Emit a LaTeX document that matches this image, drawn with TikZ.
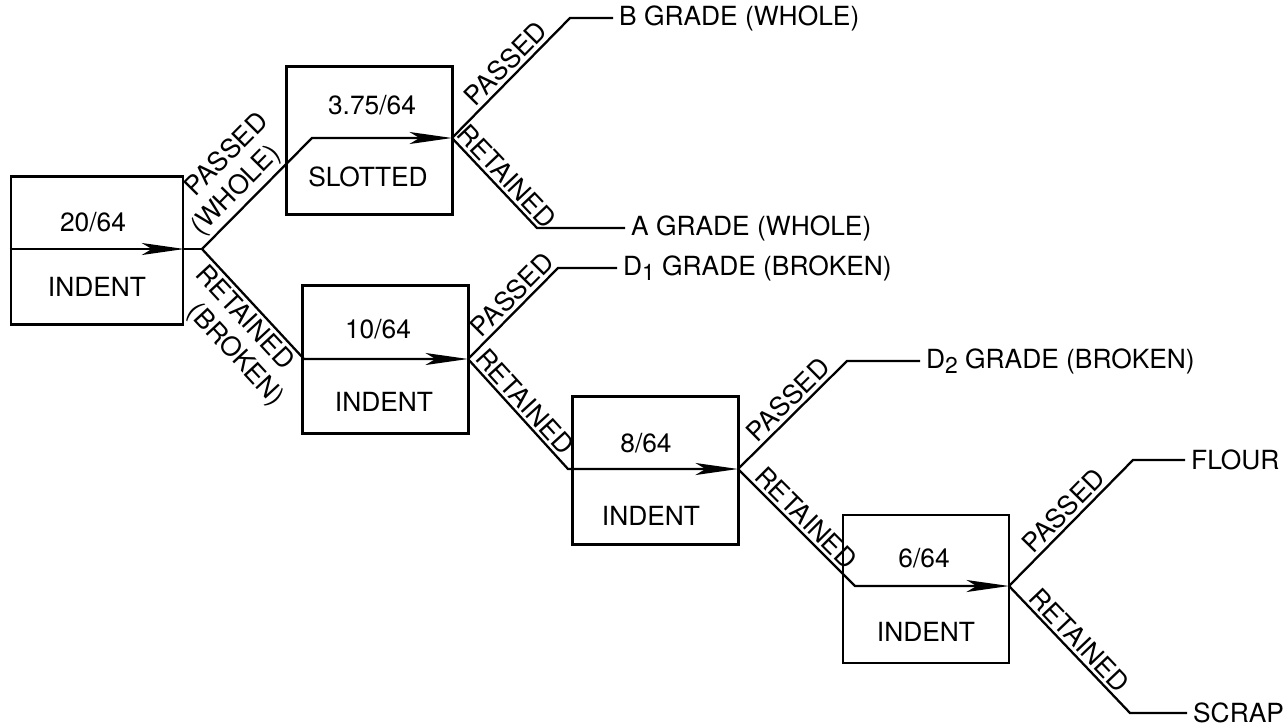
\documentclass[tikz,border=0pt]{standalone}
\usepackage{fontspec}
\setmainfont{TeX Gyre Heros}
\usetikzlibrary{arrows.meta}
\newcommand{\lowidx}[1]{\raisebox{-0.4ex}{\fontsize{13}{13}\selectfont #1}}

\begin{document}
\begin{tikzpicture}[x=0.02cm,y=-0.02cm,line width=1.3pt,
    every node/.style={font=\fontsize{15}{18}\selectfont},
    sieve/.style={draw, line width=1.5pt, minimum width=3.32cm, minimum height=2.96cm, inner sep=0pt},
    flow/.style={-{Stealth[length=0.85cm,width=0.24cm,inset=0.2cm]}},
    tag/.style={sloped, inner sep=0.06cm},
    grade/.style={anchor=west, inner xsep=0.1cm, inner ysep=1pt}]
    \useasboundingbox (0,0) rectangle (1288,727);
    \node[sieve, minimum width=3.44cm] (b1) at (97,250.5) {};
    \node[sieve] (b2) at (369.5,140.5) {};
    \node[sieve] (b3) at (385.5,359.5) {};
    \node[sieve] (b4) at (655.5,470.5) {};
    \node[sieve] (b5) at (926,589) {};
    \node (n1) at (93,222) {20/64};
    \node (m1) at (97,287) {INDENT};
    \node (n2) at (372,105) {3.75/64};
    \node (m2) at (368,177) {SLOTTED};
    \node (n3) at (378,329) {10/64};
    \node (m3) at (384,402) {INDENT};
    \node (n4) at (646,443) {8/64};
    \node (m4) at (651,516) {INDENT};
    \node (n5) at (924,558) {6/64};
    \node (m5) at (926,632) {INDENT};
    \coordinate (p1) at (202,249);
    \coordinate (p2) at (452,138);
    \coordinate (p3) at (468,359);
    \coordinate (p4) at (738,469);
    \coordinate (p5) at (1009,586);
    \coordinate (k2) at (312,138);
    \coordinate (k3) at (304,359);
    \coordinate (k4) at (568,469);
    \coordinate (k5) at (855,586);
    \draw[flow] (b1.west |- p1) -- (b1.east |- p1);
    \draw (b1.east |- p1) -- (p1);
    \draw[flow] (p1) -- node[tag, above, pos=0.42] {(WHOLE)}
        node[tag, above=0.72cm, pos=0.54] {PASSED} (k2) -- (p2);
    \draw[flow] (p1) -- node[tag, below, pos=0.53] {RETAINED}
        node[tag, below=0.62cm, pos=0.67] {(BROKEN)} (k3) -- (p3);
    \draw[flow] (p3) -- node[tag, above, pos=0.47] {RETAINED} (k4) -- (p4);
    \draw[flow] (p4) -- node[tag, above, pos=0.5] {RETAINED} (k5) -- (p5);
    \coordinate (qB) at (570,18);
    \coordinate (qA) at (537,228);
    \coordinate (qD1) at (558,268);
    \coordinate (qD2) at (847,361);
    \coordinate (qF) at (1133,460);
    \coordinate (qS) at (1130,713);
    \node[grade] (gB) at (613,18) {B GRADE (WHOLE)};
    \node[grade] (gA) at (625,228) {A GRADE (WHOLE)};
    \node[grade] (gD1) at (617,268) {D\lowidx{1} GRADE (BROKEN)};
    \node[grade] (gD2) at (920,361) {D\lowidx{2} GRADE (BROKEN)};
    \node[grade] (gF) at (1185,460) {FLOUR};
    \node[grade] (gS) at (1187,713) {SCRAP};
    \draw (p2) -- node[tag, above, pos=0.54] {PASSED} (qB) -- (gB.west);
    \draw (p2) -- node[tag, above, pos=0.53] {RETAINED} (qA) -- (gA.west);
    \draw (p3) -- node[tag, above, pos=0.6] {PASSED} (qD1) -- (gD1.west);
    \draw (p4) -- node[tag, above, pos=0.55] {PASSED} (qD2) -- (gD2.west);
    \draw (p5) -- node[tag, above, pos=0.52] {PASSED} (qF) -- (gF.west);
    \draw (p5) -- node[tag, above, pos=0.5] {RETAINED} (qS) -- (gS.west);
\end{tikzpicture}
\end{document}
